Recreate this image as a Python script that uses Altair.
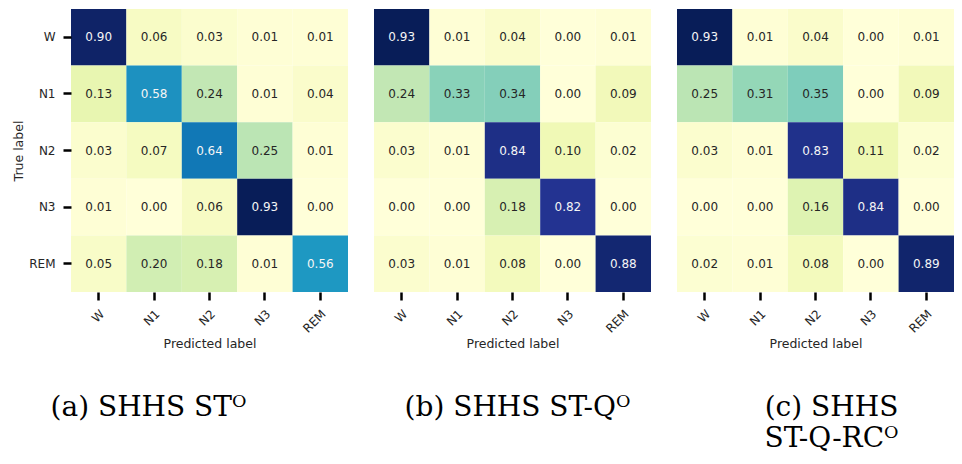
import altair as alt
import pandas as pd

stages = ["W", "N1", "N2", "N3", "REM"]

vals_a = [
    [0.90, 0.06, 0.03, 0.01, 0.01],
    [0.13, 0.58, 0.24, 0.01, 0.04],
    [0.03, 0.07, 0.64, 0.25, 0.01],
    [0.01, 0.00, 0.06, 0.93, 0.00],
    [0.05, 0.20, 0.18, 0.01, 0.56],
]
vals_b = [
    [0.93, 0.01, 0.04, 0.00, 0.01],
    [0.24, 0.33, 0.34, 0.00, 0.09],
    [0.03, 0.01, 0.84, 0.10, 0.02],
    [0.00, 0.00, 0.18, 0.82, 0.00],
    [0.03, 0.01, 0.08, 0.00, 0.88],
]
vals_c = [
    [0.93, 0.01, 0.04, 0.00, 0.01],
    [0.25, 0.31, 0.35, 0.00, 0.09],
    [0.03, 0.01, 0.83, 0.11, 0.02],
    [0.00, 0.00, 0.16, 0.84, 0.00],
    [0.02, 0.01, 0.08, 0.00, 0.89],
]
captions = [["(a) SHHS ST\u1d3c"], ["(b) SHHS ST-Q\u1d3c"], ["(c) SHHS", "ST-Q-RC\u1d3c"]]
caption_dx = [-61, 5, 16]

# ColorBrewer YlGnBu (as used by the seaborn heatmap), spread over the data range
ylgnbu = ["#ffffd9", "#edf8b1", "#c7e9b4", "#7fcdbb", "#41b6c4",
          "#1d91c0", "#225ea8", "#253494", "#081d58"]
vmax = 0.93
color_domain = [vmax * k / 8 for k in range(9)]

PW, PH = 277, 283
FONT = "DejaVu Sans"


def panel(vals, show_y, caption, dx):
    rows = []
    for i, t in enumerate(stages):
        for j, p in enumerate(stages):
            rows.append({"true": t, "pred": p, "v": vals[i][j]})
    df = pd.DataFrame(rows)
    if show_y:
        yaxis = alt.Axis(title="True label", labelAngle=0)
    else:
        yaxis = None
    base = alt.Chart(df).encode(
        x=alt.X("pred:N", sort=stages,
                axis=alt.Axis(title="Predicted label", labelAngle=-45)),
        y=alt.Y("true:N", sort=stages, axis=yaxis),
    )
    rect = base.mark_rect().encode(
        color=alt.Color("v:Q", scale=alt.Scale(domain=color_domain, range=ylgnbu),
                        legend=None)
    )
    text = base.mark_text(font=FONT, fontSize=12).encode(
        text=alt.Text("v:Q", format=".2f"),
        color=alt.condition("datum.v > 0.45", alt.value("#f5f5f5"), alt.value("#262626")),
    )
    return (rect + text).properties(
        width=PW, height=PH,
        title=alt.TitleParams(caption, orient="bottom", anchor="middle", dx=dx,
                              offset=44, font="DejaVu Serif", fontSize=28,
                              fontWeight="normal", color="black", lineHeight=31,
                              baseline="top"),
    )


chart = alt.hconcat(
    panel(vals_a, True, captions[0], caption_dx[0]),
    panel(vals_b, False, captions[1], caption_dx[1]),
    panel(vals_c, False, captions[2], caption_dx[2]),
    spacing=26,
).properties(
    padding={"left": 4, "top": 1, "right": 0, "bottom": 0}
).configure_view(
    stroke=None
).configure_axis(
    domain=False, grid=False, ticks=True, tickColor="black", tickWidth=2.5,
    tickSize=8, labelFont=FONT, labelFontSize=12, labelColor="#262626",
    labelPadding=8, titleFont=FONT, titleFontSize=12.5, titleFontWeight="normal",
    titleColor="#262626", titlePadding=3,
)

chart.save("out.html", embed_options={"renderer": "svg", "actions": False})
